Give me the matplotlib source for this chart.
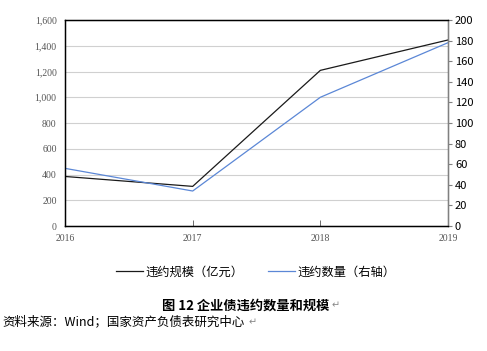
import matplotlib.pyplot as plt
from matplotlib.ticker import FuncFormatter

plt.rcParams['font.family'] = ['Noto Sans CJK SC', 'DejaVu Sans']

# 数据
years = ['2016', '2017', '2018', '2019']
scale = [385, 308, 1209, 1445]      # 违约规模（亿元），左轴
count = [56, 34, 125, 178]          # 违约数量，右轴

fig = plt.figure(figsize=(4.87, 3.51), dpi=100)
ax = fig.add_axes([0.1335, 0.356, 0.7865, 0.587])
ax2 = ax.twinx()

x = range(len(years))
l1, = ax.plot(x, scale, color='#1a1a1a', lw=0.9)
l2, = ax2.plot(x, count, color='#5b87d6', lw=0.9)

ax.set_xlim(0, 3)
ax.set_ylim(0, 1600)
ax.set_yticks(range(0, 1601, 200))
ax.yaxis.set_major_formatter(FuncFormatter(lambda v, p: f'{int(v):,}'))
ax2.set_ylim(0, 200)
ax2.set_yticks(range(0, 201, 20))

ax.grid(axis='y', color='#d0d0d0', lw=0.8)
ax.set_axisbelow(True)
ax.set_xticks(list(x))
ax.set_xticklabels(years)

for lab in ax.get_xticklabels() + ax.get_yticklabels():
    lab.set_fontfamily('Liberation Serif')
    lab.set_fontsize(7)
    lab.set_color('#555555')
for lab in ax2.get_yticklabels():
    lab.set_fontsize(8)
    lab.set_color('black')

ax.tick_params(axis='y', length=0, pad=6)
ax.tick_params(axis='x', length=4, direction='in', pad=6, width=0.6, color='#555555')
ax2.tick_params(axis='y', length=3, width=0.8, color='#808080', pad=2)

for s in ['top', 'left', 'bottom']:
    ax2.spines[s].set_color('black')
    ax2.spines[s].set_linewidth(1.0)
ax2.spines['right'].set_color('#808080')
ax2.spines['right'].set_linewidth(1.0)

fig.legend([l1, l2], ['违约规模（亿元）', '违约数量（右轴）'], loc='center',
           bbox_to_anchor=(0.525, 0.225), ncol=2, frameon=False, fontsize=8.8,
           handlelength=2.2, handletextpad=0.2, columnspacing=2.0)

fig.text(0.505, 0.13, '图 12 企业债违约数量和规模', ha='center', va='center',
         fontsize=9.5, fontweight='bold')
fig.text(0.68, 0.13, '↵', ha='left', va='center', fontsize=7, color='#888888',
         family=['DejaVu Sans'])
fig.text(0.004, 0.082, '资料来源：Wind；国家资产负债表研究中心', ha='left', va='center',
         fontsize=9)
fig.text(0.51, 0.082, '↵', ha='left', va='center', fontsize=7, color='#888888',
         family=['DejaVu Sans'])

fig.savefig('out.png', dpi=100)
